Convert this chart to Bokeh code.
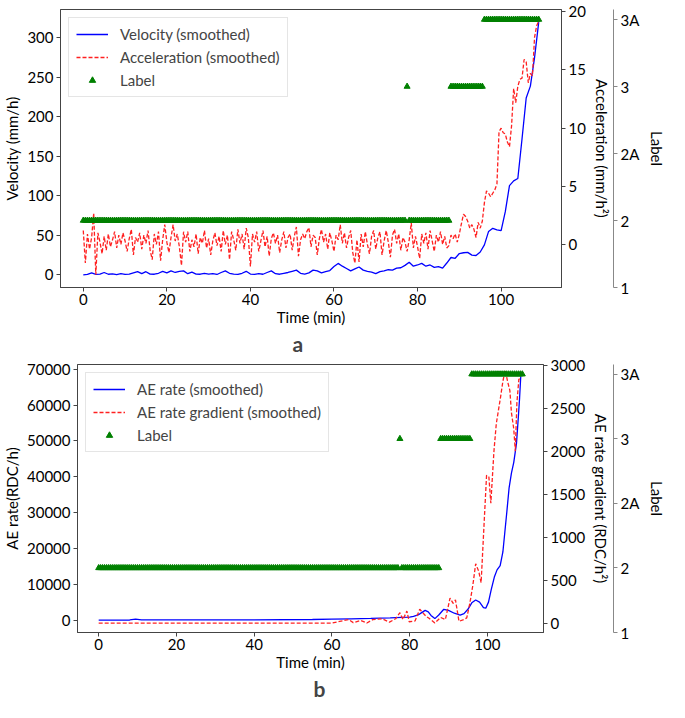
import numpy as np
from bokeh.plotting import figure
from bokeh.models import (Range1d, LinearAxis, FixedTicker, Legend, LegendItem, Title)
from bokeh.embed import file_html
from bokeh.resources import INLINE

FONT = "Lato"
FS = "15px"

# ---------------- data: panel a ----------------
# acceleration sampled every 0.5 min from 0 to 109 min
acc_time = np.arange(0, 109.01, 0.5)
acceleration = [
    1.2, -1.6, 0.9, -0.4, 0.6, 2.7, -2.6, 1.0, 0.2, -0.8, 0.7, -0.5, 0.9, -0.2, 0.4, 1.1, -0.3, 0.8, 0.0, 1.0, 0.3,
    -0.6, 0.5, 1.3, -0.9, 0.6, 0.2, 1.0, -0.4, 0.8, 0.1, 1.2, -0.5, -1.3, 0.9, 0.0, 1.1, -1.4, 0.4, 1.7, 0.2,
    -0.7, 0.6, 1.7, 0.3, 0.9, -0.2, -1.8, 1.1, 0.2, 1.1, -0.6, 0.4, -0.2, 0.9, -0.8, 0.6, 0.1, 1.2, -0.3, 0.5,
    -0.9, 0.3, 1.0, -0.1, 0.7, -0.6, 1.2, 0.0, 0.8, -1.3, 1.1, 0.4, -0.5, 1.3, 0.1, 0.9, -0.4, 1.4, 0.6, -1.9,
    0.9, 0.2, 1.1, -0.6, 0.3, 1.2, -0.2, 0.7, -1.0, 0.5, 1.0, 0.1, 0.8, -0.7, 0.4, 1.1, -0.3, 0.6, 0.9, -0.5,
    0.7, 1.5, -1.0, 0.4, 0.9, 0.5, 1.1, 1.45, -0.2, 0.8, 0.6, -0.9, 0.5, 1.3, 0.2, 0.9, -0.4, 1.0, 0.3, -0.6,
    0.8, 0.4, 1.7, 0.1, 1.0, -0.3, 0.6, 1.2, -0.7, -1.6, 0.4, -1.5, 0.9, -0.2, 1.1, 0.0, -0.8, 0.7, 1.2, -0.4,
    0.6, 1.1, -0.9, 0.3, 1.2, 0.2, -1.1, 0.8, 1.3, 0.1, 0.9, -0.5, 0.6, 0.2, -0.6, 0.4, 1.85, -0.3, 0.7, -0.2,
    -1.2, 0.9, 0.1, 1.0, -0.4, 1.2, 0.3, -0.6, 0.8, 0.2, 1.1, 0.0, 0.7, -0.3, -0.1, 0.8, 0.5, 0.9, 0.2, 0.9,
    1.8, 2.6, 2.4, 2.0, 1.4, 1.7, 1.3, 0.6, 1.9, 1.4, 2.0, 3.6, 4.6, 4.4, 4.1, 4.4, 4.7, 5.2, 9.7, 10.0,
    9.6, 9.5, 8.8, 8.4, 10.2, 13.4, 12.2, 13.6, 14.2, 14.3, 15.9, 15.7, 13.9, 14.7, 14.5, 17.8, 18.8, 19.2,
]

# velocity sampled every 1 min from 0 to 109 min
vel_time = list(range(0, 110))
velocity = [
    0, 0.5, 2.5, 0.5, 1.0, 3.0, 0.8, 1.2, 0.3, 1.5,
    0.6, 1.0, 2.5, 4.0, 1.5, 4.0, 1.0, 0.8, 2.0, 4.5,
    2.5, 5.0, 3.0, 4.5, 5.0, 1.5, 3.5, 1.0, 0.8, 2.0,
    1.0, 1.5, 0.5, 3.0, 5.0, 2.0, 1.0, 0.5, 2.0, 4.5,
    1.0, 0.5, 1.5, 0.8, 3.0, 5.0, 1.5, 0.8, 2.0, 3.0,
    4.5, 6.0, 2.0, 1.0, 2.5, 6.0, 5.0, 2.5, 4.0, 5.5,
    10.5, 14.5, 11.0, 8.0, 5.0, 7.5, 10.0, 6.0, 4.5, 3.5,
    1.5, 4.0, 5.0, 6.5, 6.0, 8.5, 9.0, 12.0, 16.0, 11.0,
    12.5, 14.5, 11.0, 12.5, 9.5, 10.5, 8.5, 15.0, 22.0, 21.0,
    27.0, 28.0, 28.5, 25.0, 24.5, 29.0, 38.0, 55.0, 59.0, 57.0,
    56.0, 80.0, 113.0, 119.0, 122.0, 172.0, 224.0, 239.0, 275.0, 320.0,
]

# ---------------- data: panel b ----------------
ae_time = [0, 8, 9.5, 11, 20, 40, 55, 60, 65, 70, 75, 78, 80, 81, 82.2, 83, 84, 84.8, 85.5, 86.5,
           87.5, 88.8, 90, 91.5, 93, 94, 95, 96, 97, 98, 99, 99.6, 100.3, 101, 101.8, 102.5, 103.3,
           104, 104.5, 105, 105.6, 106.2, 106.8, 107.5, 108, 108.3, 108.6]
ae_rate = [0, 20, 250, 30, 30, 60, 150, 250, 350, 450, 600, 750, 800, 1000, 1420, 2000, 2700, 2300, 1300, 400,
           1400, 3000, 2700, 1900, 1400, 1800, 3000, 4800, 5600, 5000, 3500, 3300, 5000, 8500, 12000, 14000, 15200,
           19000, 24500, 30000, 36900, 41000, 44000, 49300, 57000, 62000, 68000]

grad_time = [0, 60, 62, 64.3, 65.5, 67.4, 69, 70.5, 72.9, 74.8, 76.4, 77.5, 78.3, 79.3, 79.9, 81.4, 82.6, 83.4,
             84.2, 85, 86.5, 88, 89.2, 90.4, 91.2, 91.8, 92.7, 93.9, 94.7, 95.5, 96.3, 97, 97.8, 98.4, 99.2,
             99.8, 100.4, 100.9, 101.7, 102.3, 103.4, 104, 104.6, 105.2, 105.8, 106.2, 106.8, 107.2, 107.6,
             108.1, 108.6]
ae_gradient = [0, 0, 20, 40, 5, 30, 0, 40, 50, 10, 50, 120, 40, 140, 15, 25, 160, 120,
               80, 55, 0, 65, 40, 290, 230, 270, 20, 40, 60, 230, 450, 690, 600, 470, 1190,
               1720, 1700, 1395, 2000, 2320, 2630, 2815, 2945, 2815, 2705, 2450, 2260, 2000, 2560,
               2835, 2860]

# ---------------- labels (shared) ----------------
label_levels = ["1", "2", "2A", "3", "3A"]
label_segments = [(0.0, 77.0, "2"), (77.5, 77.5, "3"), (78.0, 87.5, "2"),
                  (88.0, 95.5, "3"), (96.0, 109.0, "3A")]
label_time, label_idx = [], []
for start, end, lev in label_segments:
    for t in np.arange(start, end + 0.01, 0.5):
        label_time.append(float(t))
        label_idx.append(label_levels.index(lev))

x_ticks = [0, 20, 40, 60, 80, 100]
X_RANGE = (-5.45, 114.45)


def style_axis(ax):
    ax.major_label_text_font = FONT
    ax.major_label_text_font_size = FS
    ax.major_label_text_color = "black"
    ax.axis_label_text_font = FONT
    ax.axis_label_text_font_size = FS
    ax.axis_label_text_font_style = "normal"
    ax.axis_label_text_color = "black"
    ax.minor_tick_line_color = None
    ax.major_tick_out = 4
    ax.major_tick_in = 0
    ax.major_label_standoff = 3
    ax.axis_line_color = "#444444"
    ax.major_tick_line_color = "#444444"


def make_panel(height, border_top, left_range, left_ticks, left_label, right_range, right_ticks,
               right_label, s1x, s1y, s1name, s2x, s2y, s2name, letter, letter_offset):
    p = figure(width=669, height=height, output_backend="svg", toolbar_location=None,
               x_range=Range1d(*X_RANGE), y_range=Range1d(*left_range),
               min_border_top=border_top, min_border_bottom=0, min_border_left=0, min_border_right=0)
    p.extra_y_ranges = {"right": Range1d(*right_range), "lab": Range1d(0, 4.15)}
    p.grid.visible = False
    p.outline_line_color = "#444444"
    p.background_fill_color = "white"

    r1 = p.line(s1x, s1y, line_color="#0000ff", line_width=1.3)
    r2 = p.line(s2x, s2y, y_range_name="right", line_color="#ff2020", line_width=1.3,
                line_dash="4 2")
    r3 = p.scatter(label_time, label_idx, y_range_name="lab", marker="triangle", size=6,
                   fill_color="#008000", line_color="#008000")

    p.xaxis.ticker = FixedTicker(ticks=x_ticks)
    p.xaxis.axis_label = "Time (min)"
    p.yaxis.ticker = FixedTicker(ticks=left_ticks)
    p.yaxis.axis_label = left_label
    for ax in p.xaxis + p.yaxis:
        style_axis(ax)
    p.xaxis.axis_label_standoff = 0
    p.xaxis.major_label_standoff = 2
    p.yaxis.axis_label_standoff = 3

    ax_r = LinearAxis(y_range_name="right", axis_label=right_label,
                      ticker=FixedTicker(ticks=right_ticks))
    style_axis(ax_r)
    ax_r.axis_label_standoff = 4
    p.add_layout(ax_r, "right")

    ax_l = LinearAxis(y_range_name="lab", axis_label="Label",
                      ticker=FixedTicker(ticks=[0, 1, 2, 3, 4]),
                      major_label_overrides={i: s for i, s in enumerate(label_levels)})
    style_axis(ax_l)
    ax_l.axis_line_color = "#888888"
    ax_l.major_tick_line_color = "#888888"
    ax_l.axis_label_standoff = 6
    p.add_layout(ax_l, "right")

    legend = Legend(items=[LegendItem(label=s1name, renderers=[r1]),
                           LegendItem(label=s2name, renderers=[r2]),
                           LegendItem(label="Label", renderers=[r3])],
                    location="top_left")
    legend.label_text_font = FONT
    legend.label_text_font_size = FS
    legend.glyph_width = 32
    legend.glyph_height = 16
    legend.spacing = 5
    legend.padding = 7
    legend.margin = 8
    legend.label_standoff = 12
    legend.border_line_color = "#cccccc"
    legend.border_line_width = 1
    legend.background_fill_alpha = 1.0
    p.add_layout(legend)

    t = Title(text=letter, align="left", offset=letter_offset, text_font=FONT,
              text_font_size="21px", text_font_style="bold", standoff=0)
    p.add_layout(t, "below")
    return p


pa = make_panel(355, 9, (-16, 336), [0, 50, 100, 150, 200, 250, 300], "Velocity (mm/h)",
                (-3.7, 20.2), [0, 5, 10, 15, 20], "Acceleration (mm/h²)",
                vel_time, velocity, "Velocity (smoothed)",
                acc_time, acceleration, "Acceleration (smoothed)", "a", 232)

pb = make_panel(345, 9, (-3473, 71300), [0, 10000, 20000, 30000, 40000, 50000, 60000, 70000],
                "AE rate(RDC/h)", (-110, 3010), [0, 500, 1000, 1500, 2000, 2500, 3000],
                "AE rate gradient (RDC/h²)",
                ae_time, ae_rate, "AE rate (smoothed)",
                grad_time, ae_gradient, "AE rate gradient (smoothed)", "b", 236)

open("out.html", "w").write(file_html([pa, pb], INLINE))
